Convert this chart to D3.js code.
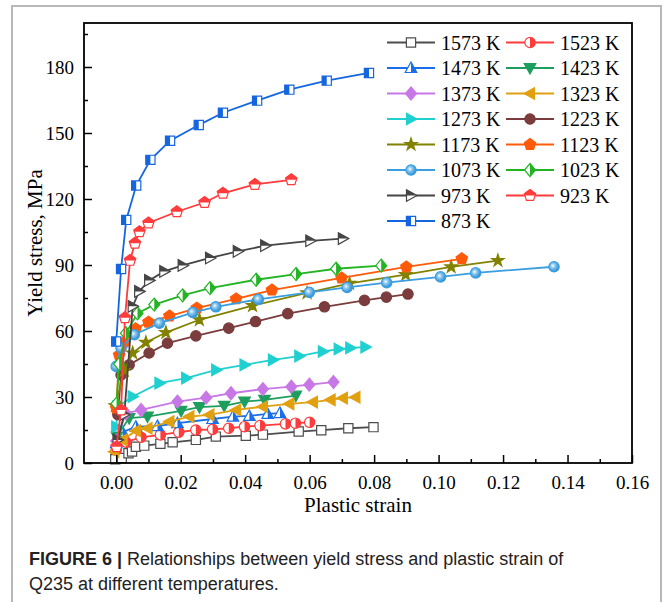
<!DOCTYPE html>
<html>
<head>
<meta charset="utf-8">
<script src="https://cdn.jsdelivr.net/npm/d3@7"></script>
<style>
  body { margin: 0; background: #fff; }
  svg { display: block; }
</style>
</head>
<body>
<svg id="chart" width="665" height="602"></svg>
<script>
// temperatures, in legend order
var temps = ["1573 K", "1523 K", "1473 K", "1423 K", "1373 K", "1323 K", "1273 K", "1223 K",
	"1173 K", "1123 K", "1073 K", "1023 K", "973 K", "923 K", "873 K"];

// [plastic strain, yield stress MPa]
var s1573 = [[-0.0003,1.7],[0.0017,2.3],[0.0038,4.4],[0.0049,5.2],[0.0061,7.4],[0.0087,7.9],[0.0137,8.7],[0.0175,9.4],[0.0247,10.5],[0.0309,12.0],[0.0402,12.4],[0.0455,12.9],[0.0566,14.3],[0.0636,14.9],[0.0720,15.8],[0.0798,16.3]];
var s1523 = [[0.0000,6.0],[0.0030,9.5],[0.0077,11.7],[0.0137,12.8],[0.0194,14.0],[0.0247,15.0],[0.0299,15.3],[0.0349,15.8],[0.0398,16.5],[0.0446,17.0],[0.0525,17.8],[0.0556,18.1],[0.0600,18.5]];
var s1473 = [[0.0000,9.0],[0.0020,14.0],[0.0061,16.5],[0.0128,16.8],[0.0190,18.1],[0.0299,20.0],[0.0362,21.1],[0.0413,21.4],[0.0470,22.3],[0.0508,22.7]];
var s1423 = [[0.0002,12.0],[0.0040,20.4],[0.0097,21.1],[0.0201,23.7],[0.0258,25.4],[0.0335,26.0],[0.0398,27.9],[0.0460,28.7],[0.0557,30.6]];
var s1373 = [[0.0000,10.0],[0.0030,22.6],[0.0077,24.1],[0.0190,27.9],[0.0279,29.7],[0.0356,31.7],[0.0455,33.6],[0.0543,34.7],[0.0599,35.6],[0.0674,36.8]];
var s1323 = [[-0.0006,5.1],[0.0020,10.5],[0.0061,14.7],[0.0097,15.8],[0.0165,18.8],[0.0227,21.1],[0.0289,21.9],[0.0372,24.1],[0.0455,25.6],[0.0537,26.9],[0.0610,27.7],[0.0665,28.7],[0.0703,29.5],[0.0742,29.9]];
var s1273 = [[0.0000,16.5],[0.0004,25.6],[0.0051,30.2],[0.0134,36.3],[0.0217,38.6],[0.0310,42.3],[0.0398,44.6],[0.0486,46.9],[0.0568,48.6],[0.0641,50.7],[0.0690,51.8],[0.0726,52.3],[0.0773,52.7]];
var s1223 = [[0.0005,22.0],[0.0015,40.1],[0.0040,44.6],[0.0102,50.0],[0.0159,54.5],[0.0247,57.8],[0.0349,61.3],[0.0432,64.3],[0.0532,67.9],[0.0646,71.0],[0.0770,73.9],[0.0838,75.4],[0.0905,76.8]];
var s1173 = [[-0.0003,26.0],[0.0025,42.0],[0.0051,50.0],[0.0092,54.8],[0.0154,59.3],[0.0258,65.1],[0.0423,71.5],[0.0592,77.3],[0.0724,81.6],[0.0898,85.6],[0.1039,89.1],[0.1184,92.0]];
var s1123 = [[0.0000,25.0],[0.0009,49.0],[0.0025,55.0],[0.0060,61.0],[0.0100,64.0],[0.0165,66.8],[0.0250,70.4],[0.0372,74.6],[0.0483,78.6],[0.0699,84.1],[0.0900,89.1],[0.1072,92.8]];
var s1073 = [[0.0000,43.9],[0.0015,52.2],[0.0056,58.3],[0.0134,63.6],[0.0237,68.4],[0.0309,71.0],[0.0441,74.4],[0.0599,77.6],[0.0716,79.8],[0.0839,82.0],[0.1006,84.6],[0.1115,86.4],[0.1358,89.2]];
var s1023 = [[0.0001,27.0],[0.0009,45.0],[0.0030,59.0],[0.0066,68.0],[0.0118,72.0],[0.0206,76.2],[0.0291,79.5],[0.0434,83.3],[0.0558,85.9],[0.0682,88.3],[0.0822,89.7]];
var s973 = [[0.0004,10.5],[0.0025,22.0],[0.0051,71.2],[0.0071,78.0],[0.0102,83.0],[0.0149,87.1],[0.0206,89.8],[0.0291,93.2],[0.0377,96.2],[0.0462,98.8],[0.0602,101.0],[0.0703,102.0]];
var s923 = [[0.0001,7.4],[0.0015,24.1],[0.0027,66.0],[0.0043,92.1],[0.0058,99.9],[0.0072,105.1],[0.0100,109.1],[0.0188,114.2],[0.0274,118.4],[0.0331,122.6],[0.0430,126.6],[0.0543,128.7]];
var s873 = [[0.0000,55.2],[0.0015,88.2],[0.0031,110.5],[0.0062,126.1],[0.0106,137.8],[0.0167,146.5],[0.0256,153.6],[0.0331,159.2],[0.0437,164.7],[0.0537,169.7],[0.0653,173.8],[0.0784,177.3]];

var seriesData = [s1573, s1523, s1473, s1423, s1373, s1323, s1273, s1223, s1173, s1123, s1073, s1023, s973, s923, s873];

var colors = ["#4d4d4d", "#ff3b3b", "#1a6fe8", "#1e9e5e", "#c878e6", "#e0a010", "#20d0d0", "#7a3c3c",
	"#828200", "#ff5a0a", "#3a9ee0", "#22b422", "#454545", "#ff3b3b", "#1466e0"];
var shapes = ["square", "circle", "triUp", "triDown", "diamond", "triLeft", "triRight", "circle",
	"star", "pentagon", "sphere", "diamond", "triRight", "pentagon", "square"];
var fills = ["none", "right", "right", "full", "full", "full", "full", "full",
	"full", "full", "full", "right", "top", "top", "left"];

var xTicks = [0, 0.02, 0.04, 0.06, 0.08, 0.10, 0.12, 0.14, 0.16];
var yTicks = [0, 30, 60, 90, 120, 150, 180];

var svg = d3.select("#chart");
var margin = {left: 84, top: 23, right: 33, bottom: 139};
var W = 665, H = 602;
var pw = W - margin.left - margin.right, ph = H - margin.top - margin.bottom;

var x = d3.scaleLinear().domain([-0.01, 0.16]).range([margin.left, margin.left + pw]);
var y = d3.scaleLinear().domain([0, 200]).range([margin.top + ph, margin.top]);

// outer figure frame
svg.append("rect").attr("x", 12).attr("y", 6).attr("width", 649).attr("height", 620)
	.attr("fill", "none").attr("stroke", "#b8b8b8").attr("stroke-width", 2);

var defs = svg.append("defs");
defs.append("clipPath").attr("id", "half-right").append("rect").attr("x", 0).attr("y", -10).attr("width", 10).attr("height", 20);
defs.append("clipPath").attr("id", "half-left").append("rect").attr("x", -10).attr("y", -10).attr("width", 10).attr("height", 20);
defs.append("clipPath").attr("id", "half-top").append("rect").attr("x", -10).attr("y", -10).attr("width", 20).attr("height", 10);
var grad = defs.append("radialGradient").attr("id", "sphere").attr("cx", "40%").attr("cy", "40%").attr("r", "60%");
grad.append("stop").attr("offset", "0%").attr("stop-color", "#ffffff");
grad.append("stop").attr("offset", "35%").attr("stop-color", "#8cc8f0");
grad.append("stop").attr("offset", "100%").attr("stop-color", "#2a8cd0");

function poly(pts) {
	return "M" + pts.map(function(p) { return p[0].toFixed(2) + "," + p[1].toFixed(2); }).join("L") + "Z";
}

function shapePath(shape) {
	if (shape === "square") return d3.symbol(d3.symbolSquare, 85)();
	if (shape === "circle" || shape === "sphere") return d3.symbol(d3.symbolCircle, 85)();
	if (shape === "star") return d3.symbol(d3.symbolStar, 48)();
	if (shape === "triUp") return poly([[0, -6], [5.8, 4.5], [-5.8, 4.5]]);
	if (shape === "triDown") return poly([[0, 6], [5.8, -4.5], [-5.8, -4.5]]);
	if (shape === "triLeft") return poly([[-6, 0], [4.5, -5.8], [4.5, 5.8]]);
	if (shape === "triRight") return poly([[6, 0], [-4.5, -5.8], [-4.5, 5.8]]);
	if (shape === "diamond") return poly([[0, -6.5], [5.5, 0], [0, 6.5], [-5.5, 0]]);
	if (shape === "pentagon") {
		return poly(d3.range(5).map(function(k) {
			var a = -Math.PI / 2 + k * 2 * Math.PI / 5;
			return [6 * Math.cos(a), 6 * Math.sin(a)];
		}));
	}
}

function drawMarker(g, i, px, py) {
	var d = shapePath(shapes[i]);
	var f = fills[i];
	var t = "translate(" + px + "," + py + ")";
	var base = g.append("path").attr("d", d).attr("transform", t)
		.attr("stroke", colors[i]).attr("stroke-width", 1.2);
	if (f === "full") {
		base.attr("fill", shapes[i] === "sphere" ? "url(#sphere)" : colors[i]);
	} else {
		base.attr("fill", "#fff");
		if (f !== "none") {
			g.append("path").attr("d", d).attr("transform", t)
				.attr("fill", colors[i]).attr("clip-path", "url(#half-" + f + ")");
		}
	}
}

// series
var line = d3.line().x(function(d) { return x(d[0]); }).y(function(d) { return y(d[1]); });
var plot = svg.append("g");
seriesData.forEach(function(data, i) {
	var g = plot.append("g");
	g.append("path").datum(data).attr("d", line)
		.attr("fill", "none").attr("stroke", colors[i]).attr("stroke-width", 1.8);
	data.forEach(function(d) { drawMarker(g, i, x(d[0]), y(d[1])); });
});

// axes, ticks pointing inward
var font = "'Liberation Serif', 'Times New Roman', serif";
var xAxis = svg.append("g").attr("transform", "translate(0," + (margin.top + ph) + ")")
	.call(d3.axisBottom(x).tickValues(xTicks).tickSizeInner(-8).tickSizeOuter(0).tickPadding(13)
		.tickFormat(d3.format(".2f")));
svg.append("g").attr("transform", "translate(0," + (margin.top + ph) + ")")
	.call(d3.axisBottom(x).tickValues(d3.range(0.01, 0.16, 0.02)).tickSizeInner(-4).tickSizeOuter(0).tickFormat(""))
	.select(".domain").remove();
var yAxis = svg.append("g").attr("transform", "translate(" + margin.left + ",0)")
	.call(d3.axisLeft(y).tickValues(yTicks).tickSizeInner(-8).tickSizeOuter(0).tickPadding(10));
svg.append("g").attr("transform", "translate(" + margin.left + ",0)")
	.call(d3.axisLeft(y).tickValues(d3.range(15, 200, 30)).tickSizeInner(-4).tickSizeOuter(0).tickFormat(""))
	.select(".domain").remove();
svg.selectAll(".tick line").attr("stroke", "#000").attr("stroke-width", 1.5);
xAxis.selectAll("text").attr("font-family", font).attr("font-size", 19).attr("fill", "#000");
yAxis.selectAll("text").attr("font-family", font).attr("font-size", 19).attr("fill", "#000");
svg.selectAll(".domain").remove();

svg.append("rect").attr("x", margin.left).attr("y", margin.top).attr("width", pw).attr("height", ph)
	.attr("fill", "none").attr("stroke", "#000").attr("stroke-width", 1.8);

svg.append("text").attr("x", margin.left + pw / 2).attr("y", 512).attr("text-anchor", "middle")
	.attr("font-family", font).attr("font-size", 21).text("Plastic strain");
svg.append("text").attr("transform", "translate(42," + (margin.top + ph / 2) + ") rotate(-90)")
	.attr("text-anchor", "middle").attr("font-family", font).attr("font-size", 21).text("Yield stress, MPa");

// legend
var legend = svg.append("g");
temps.forEach(function(t, i) {
	var col = i % 2, row = Math.floor(i / 2);
	var lx = col === 0 ? 387 : 506, ly = 42.5 + row * 25.5;
	var g = legend.append("g");
	g.append("line").attr("x1", lx).attr("x2", lx + 48).attr("y1", ly).attr("y2", ly)
		.attr("stroke", colors[i]).attr("stroke-width", 1.8);
	drawMarker(g, i, lx + 24, ly);
	g.append("text").attr("x", lx + 54).attr("y", ly).attr("dy", "0.35em")
		.attr("font-family", font).attr("font-size", 20).text(t);
});

// caption
var cap = svg.append("text").attr("x", 29).attr("y", 565)
	.attr("font-family", "'Liberation Sans', Arial, sans-serif").attr("font-size", 18).attr("fill", "#222");
cap.append("tspan").attr("font-weight", "bold").text("FIGURE 6 | ");
cap.append("tspan").text("Relationships between yield stress and plastic strain of");
svg.append("text").attr("x", 29).attr("y", 590)
	.attr("font-family", "'Liberation Sans', Arial, sans-serif").attr("font-size", 18).attr("fill", "#222")
	.text("Q235 at different temperatures.");
</script>
</body>
</html>
